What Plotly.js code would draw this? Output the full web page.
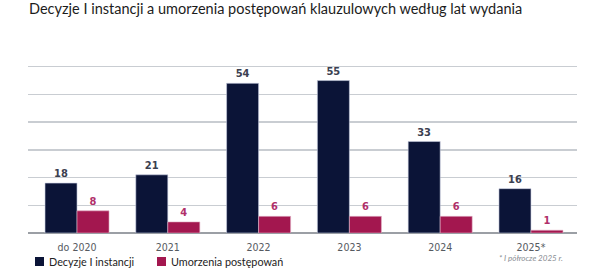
<!DOCTYPE html>
<html>
<head>
<meta charset="utf-8">
<script src="https://cdn.plot.ly/plotly-3.0.1.min.js"></script>
<style>html,body{margin:0;padding:0;background:#fff;}#chart{width:605px;height:275px;}</style>
</head>
<body>
<div id="chart"></div>
<script>
const categories = ["do 2020", "2021", "2022", "2023", "2024", "2025*"];
const decyzje = [18, 21, 54, 55, 33, 16];
const umorzenia = [8, 4, 6, 6, 6, 1];
const seriesNames = ["Decyzje I instancji", "Umorzenia postępowań"];
const titleText = "Decyzje I instancji a umorzenia postępowań klauzulowych według lat wydania";
const footnote = "* I półrocze 2025 r.";

const navy = "#0b1437";
const pink = "#a3174f";
const condensed = "'Liberation Sans Narrow', 'DejaVu Sans Condensed', Roboto, sans-serif";
const lato = "Lato, 'Open Sans', sans-serif";

const L = 28, R = 577, T = 39, B = 233;
const px = v => (v - L) / (R - L);
const py = v => (B - v) / (B - T);

const traces = [
  {
    type: "bar", x: categories, y: decyzje, name: seriesNames[0],
    marker: {color: navy, line: {color: "#c8cde0", width: 0.6}},
    texttemplate: "%{y}", textposition: "outside", cliponaxis: false,
    textfont: {family: condensed, size: 11, color: "#3b4050", weight: "bold"},
    hoverinfo: "skip", showlegend: false
  },
  {
    type: "bar", x: categories, y: umorzenia, name: seriesNames[1],
    marker: {color: pink, line: {color: "#e0b0c4", width: 0.6}},
    texttemplate: "%{y}", textposition: "outside", cliponaxis: false,
    textfont: {family: condensed, size: 11, color: "#b0306a", weight: "bold"},
    hoverinfo: "skip", showlegend: false
  }
];

const layout = {
  width: 605, height: 275,
  margin: {l: L, r: 605 - R, t: T, b: 275 - B, pad: 0},
  paper_bgcolor: "#fff", plot_bgcolor: "#fff",
  barmode: "group", bargap: 0.295, bargroupgap: 0,
  showlegend: false,
  title: {
    text: titleText, font: {family: lato, size: 14.5, color: "#1c1c1c"},
    xref: "container", x: 29 / 605, xanchor: "left",
    yref: "container", y: 1 - 9 / 275, yanchor: "middle"
  },
  xaxis: {
    type: "category", range: [-0.54, 5.507], fixedrange: true,
    showgrid: false, showline: false, zeroline: false, ticks: "",
    tickfont: {family: condensed, size: 10.5, color: "#555a60"},
    ticklabelstandoff: 6
  },
  yaxis: {
    range: [0, 70], dtick: 10, tick0: 0, showticklabels: false, ticks: "",
    showgrid: true, gridcolor: "#c9cdd2", gridwidth: 1.5,
    zeroline: true, zerolinecolor: "#9b9fa5", zerolinewidth: 2,
    showline: false, fixedrange: true
  },
  shapes: [
    {type: "rect", xref: "paper", yref: "paper", x0: px(35), x1: px(44), y0: py(257), y1: py(266), fillcolor: navy, line: {width: 0}},
    {type: "rect", xref: "paper", yref: "paper", x0: px(157), x1: px(166), y0: py(257), y1: py(266), fillcolor: pink, line: {width: 0}}
  ],
  annotations: [
    {xref: "paper", yref: "paper", x: px(47), y: py(261.5), xanchor: "left", yanchor: "middle", showarrow: false,
     text: seriesNames[0], font: {family: lato, size: 10.8, color: "#222"}},
    {xref: "paper", yref: "paper", x: px(169), y: py(261.5), xanchor: "left", yanchor: "middle", showarrow: false,
     text: seriesNames[1], font: {family: lato, size: 10.8, color: "#222"}},
    {xref: "paper", yref: "paper", x: px(531), y: py(258), xanchor: "center", yanchor: "middle", showarrow: false,
     text: footnote, font: {family: lato, size: 8, color: "#8a8e94", style: "italic"}}
  ]
};

Plotly.newPlot("chart", traces, layout, {displayModeBar: false, staticPlot: true});
</script>
</body>
</html>
